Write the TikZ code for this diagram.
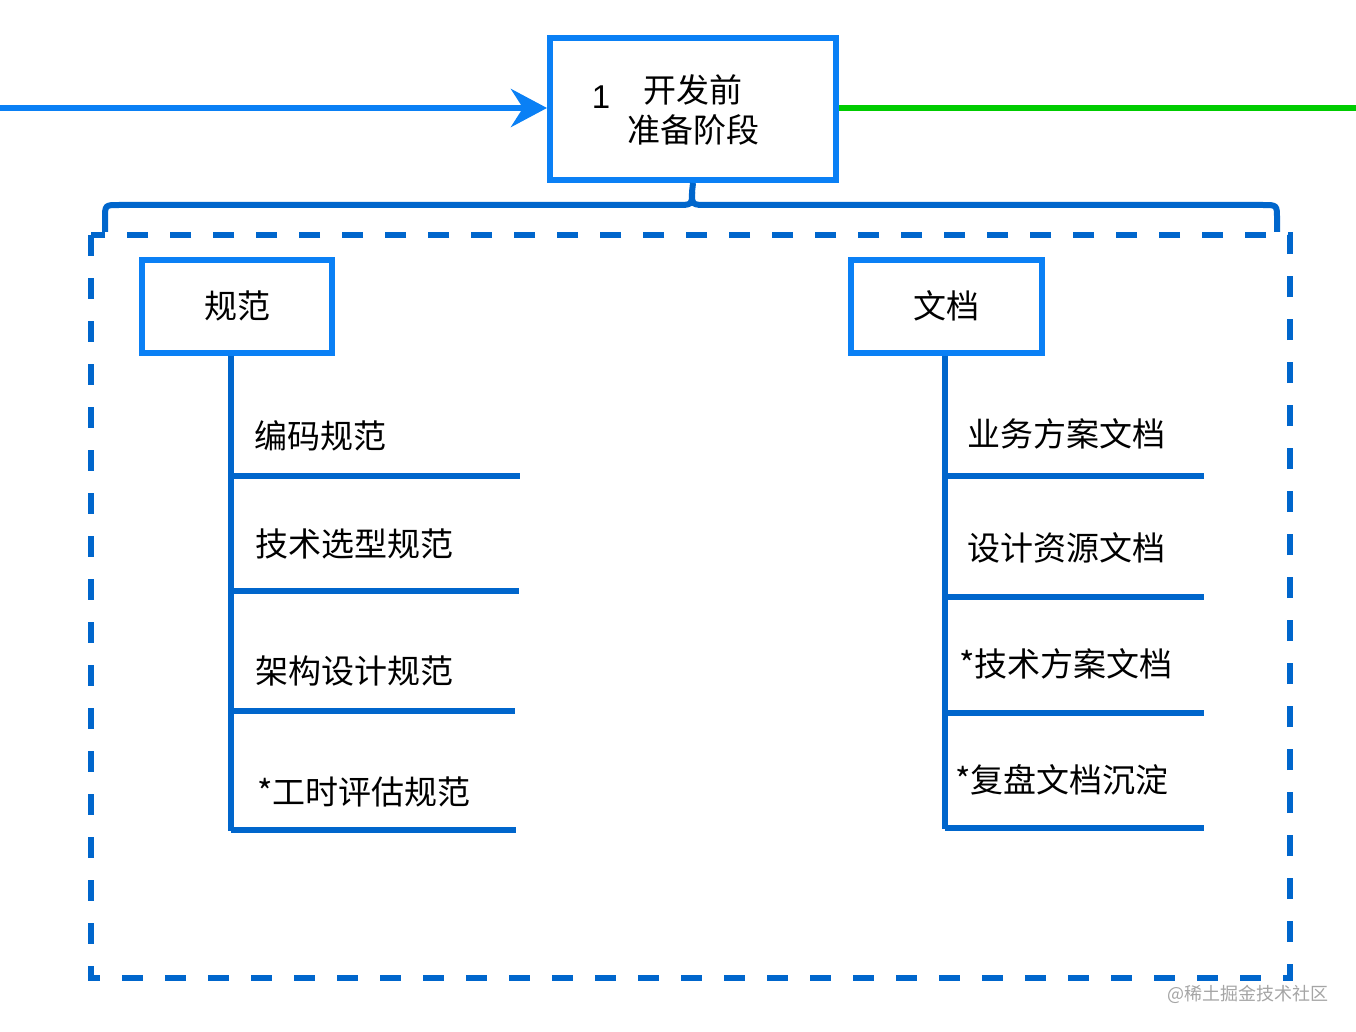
\documentclass[tikz,border=0pt]{standalone}
\usepackage{fontspec}
\setmainfont{Noto Sans CJK SC}
\newfontfamily\latinfont{Liberation Sans}
\usetikzlibrary{arrows.meta}
\definecolor{bblue}{RGB}{10,128,245}
\definecolor{dblue}{RGB}{0,102,204}
\definecolor{lgreen}{RGB}{0,204,0}
\definecolor{wmgray}{RGB}{165,165,165}
\tikzset{
  bluebox/.style={draw=bblue, line width=6pt, fill=white, inner sep=0pt},
  treeline/.style={draw=dblue, line width=6pt},
  itemtext/.style={anchor=west, font=\fontsize{33}{38}\selectfont, inner sep=0pt},
  headtext/.style={font=\fontsize{33}{38}\selectfont, inner sep=0pt},
}
\begin{document}
\begin{tikzpicture}[x=1pt,y=-1pt]
\useasboundingbox (0,0) rectangle (1356,1032);
\fill[white] (0,0) rectangle (1356,1032);

% top box
\node[bluebox, minimum width=286pt, minimum height=142pt] (top) at (693,109) {};
\node[headtext, font=\latinfont\fontsize{33}{38}\selectfont] (num) at (601,97) {1};
\node[headtext] (t1) at (693,90) {开发前};
\node[headtext] (t2) at (693,130) {准备阶段};

% incoming arrow and outgoing green line
\coordinate (inL) at (0,108);
\coordinate (outR) at (1356,108);
\draw[draw=bblue, line width=6pt, -{Stealth[length=36pt,width=38pt,inset=12pt]}] (inL) -- (top.west |- inL);
\draw[draw=lgreen, line width=6pt] (top.east |- outR) -- (outR);

% brace
\coordinate (bl) at (105,232);
\coordinate (br) at (1277,232);
\draw[treeline, line cap=butt] (bl) -- (105,219) .. controls (105,205) .. (119,205) -- (676,205)
  .. controls (692,205) .. (692,192) -- (top.south);
\draw[treeline, line cap=butt] (692,192) .. controls (692,205) .. (708,205) -- (1263,205)
  .. controls (1277,205) .. (1277,219) -- (br);

% dashed frame
\draw[draw=dblue, line width=6pt, dash pattern=on 21pt off 22pt] (91,235) rectangle (1290,978);

% left group
\node[bluebox, minimum width=190pt, minimum height=93pt] (gf) at (237,306) {};
\node[headtext] (gft) at (237,306) {规范};
\coordinate (lbot) at (231,831);
\draw[treeline] (gf.south -| lbot) -- (lbot);
\node[itemtext] (l1) at (254,436) {编码规范};
\node[itemtext] (l2) at (255,544) {技术选型规范};
\node[itemtext] (l3) at (255,671) {架构设计规范};
\node[itemtext] (l4) at (257,792) {*工时评估规范};
\coordinate (l1e) at (520,476);
\coordinate (l2e) at (519,591);
\coordinate (l3e) at (515,711);
\coordinate (l4e) at (516,830);
\draw[treeline] (lbot |- l1e) -- (l1e);
\draw[treeline] (lbot |- l2e) -- (l2e);
\draw[treeline] (lbot |- l3e) -- (l3e);
\draw[treeline] (lbot |- l4e) -- (l4e);

% right group
\node[bluebox, minimum width=191pt, minimum height=93pt] (gd) at (946,306) {};
\node[headtext] (gdt) at (946,306) {文档};
\coordinate (rbot) at (945,829);
\draw[treeline] (gd.south -| rbot) -- (rbot);
\node[itemtext] (r1) at (967,434) {业务方案文档};
\node[itemtext] (r2) at (967,548) {设计资源文档};
\node[itemtext] (r3) at (959,664) {*技术方案文档};
\node[itemtext] (r4) at (955,780) {*复盘文档沉淀};
\coordinate (r1e) at (1204,476);
\coordinate (r2e) at (1204,597);
\coordinate (r3e) at (1204,713);
\coordinate (r4e) at (1204,828);
\draw[treeline] (rbot |- r1e) -- (r1e);
\draw[treeline] (rbot |- r2e) -- (r2e);
\draw[treeline] (rbot |- r3e) -- (r3e);
\draw[treeline] (rbot |- r4e) -- (r4e);

% watermark
\node[anchor=east, text=wmgray, font=\fontsize{18}{20}\selectfont, inner sep=0pt] (wm) at (1329,994) {@稀土掘金技术社区};
\end{tikzpicture}
\end{document}
